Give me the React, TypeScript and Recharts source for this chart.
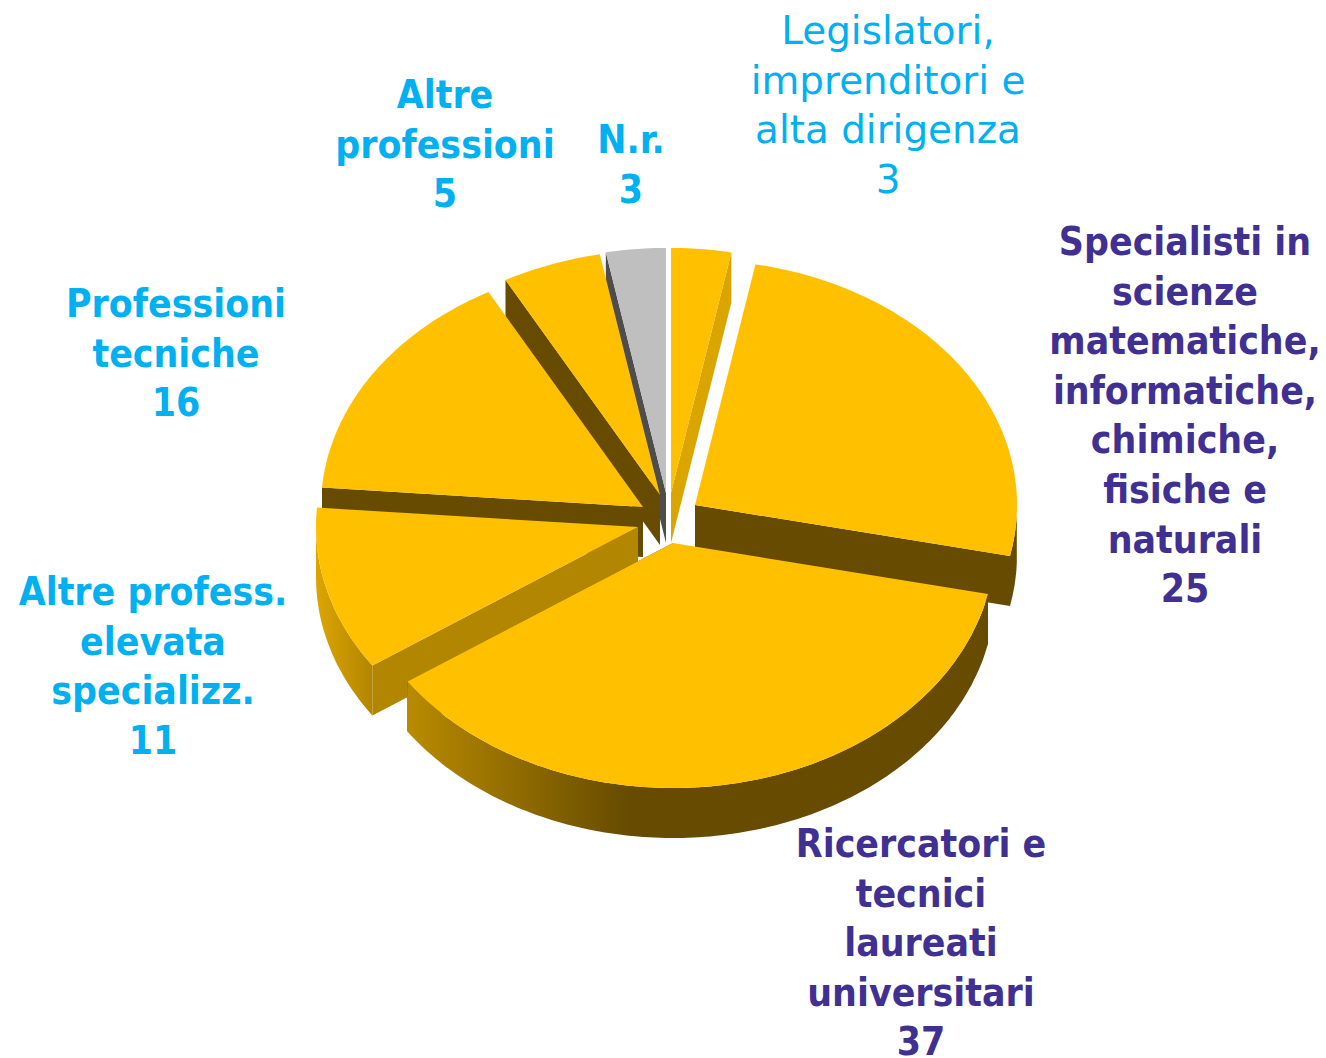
import { Pie, PieChart } from "recharts";

// drawn in this order, back to front, going counter-clockwise round the pie
const categories = [
  "Specialisti in\nscienze\nmatematiche,\ninformatiche,\nchimiche,\nfisiche e\nnaturali",
  "Legislatori,\nimprenditori e\nalta dirigenza",
  "N.r.",
  "Altre\nprofessioni",
  "Professioni\ntecniche",
  "Altre profess.\nelevata\nspecializz.",
  "Ricercatori e\ntecnici\nlaureati\nuniversitari",
];
const values = [25, 3, 3, 5, 16, 11, 37];

const chartData = categories.map((name, i) => ({ name, value: values[i] }));

const WIDTH = 1326;
const HEIGHT = 1058;
const CX = 670;
const CY = 505;
const RX = 322;
const RY = 245;
const DEPTH = 50;

const AMBER = "#FFC000";
const DARK = "#664B00";
const CYAN = "#00B0F0";
const PURPLE = "#403092";
const FONT_BOLD = "'DejaVu Sans Condensed', 'DejaVu Sans', sans-serif";
const FONT_PLAIN = "'DejaVu Sans', sans-serif";

const explode = [
  [25, 0],
  [1, -12],
  [-4, -12],
  [-10, -10],
  [-27, 2],
  [-32, 22],
  [3, 38],
];
const topFill = [AMBER, AMBER, "#BFBFBF", AMBER, AMBER, AMBER, AMBER];
const edgeFill = [DARK, "#DBA500", "#4D4D4D", DARK, DARK, "#B38600", DARK];
const rimFill = [DARK, "#DBA500", "#4D4D4D", DARK, DARK, "url(#rimLeft)", "url(#rimFront)"];

const labelPos = [
  { x: 1185, y: 255, color: PURPLE, weight: 700 },
  { x: 888, y: 44, color: CYAN, weight: 400 },
  { x: 631, y: 153, color: CYAN, weight: 700 },
  { x: 445, y: 108, color: CYAN, weight: 700 },
  { x: 176, y: 317, color: CYAN, weight: 700 },
  { x: 153, y: 605, color: CYAN, weight: 700 },
  { x: 921, y: 857, color: PURPLE, weight: 700 },
];

const rad = (a: number) => (a * Math.PI) / 180;

function SliceShape(props: any) {
  const { startAngle, endAngle, index } = props;
  const [dx, dy] = explode[index];
  const cx = props.cx + dx;
  const cy = props.cy + dy;
  const rx = props.outerRadius;
  const ry = (props.outerRadius * RY) / RX;
  const pt = (a: number): [number, number] => {
    // the tilted view pulls the near part of the pie round a little
    const half = Math.sin(rad((90 - a) / 2));
    const seen = a - 2 * half * half;
    return [cx + rx * Math.cos(rad(seen)), cy - ry * Math.sin(rad(seen))];
  };

  // ellipse points along the slice's rim
  const arc: [number, number][] = [];
  const steps = Math.ceil(Math.abs(endAngle - startAngle));
  for (let i = 0; i <= steps; i++) {
    arc.push(pt(startAngle + ((endAngle - startAngle) * i) / steps));
  }
  const poly = (pts: [number, number][]) =>
    pts.map((p) => `${p[0].toFixed(1)},${p[1].toFixed(1)}`).join(" ");

  // the part of the rim facing the viewer
  const front: [number, number][] = [];
  for (let i = 0; i <= steps; i++) {
    const a = startAngle + ((endAngle - startAngle) * i) / steps;
    if (Math.sin(rad(a)) <= 0) front.push(pt(a));
  }
  const frontWall = [...front, ...front.slice().reverse().map((p) => [p[0], p[1] + DEPTH] as [number, number])];

  // radial cut that shows: right half of the pie its lower angle, left half its upper
  const mid = (startAngle + endAngle) / 2;
  const cutAngle = Math.cos(rad(mid)) > 0 ? startAngle : endAngle;
  const rimPt = pt(cutAngle);
  const cutWall: [number, number][] = [
    [cx, cy],
    rimPt,
    [rimPt[0], rimPt[1] + DEPTH],
    [cx, cy + DEPTH],
  ];

  return (
    <g>
      <polygon points={poly(cutWall)} fill={edgeFill[index]} />
      {front.length > 1 && <polygon points={poly(frontWall)} fill={rimFill[index]} />}
      <polygon points={poly([[cx, cy], ...arc])} fill={topFill[index]} />
    </g>
  );
}

function SliceLabel(props: any) {
  const { index } = props;
  const lines = [...categories[index].split("\n"), String(values[index])];
  const pos = labelPos[index];
  const bold = pos.weight === 700;
  return (
    <text
      x={pos.x}
      y={pos.y}
      textAnchor="middle"
      fill={pos.color}
      fontFamily={bold ? FONT_BOLD : FONT_PLAIN}
      fontSize={bold ? 38.8 : 38.9}
      fontWeight={pos.weight}
    >
      {lines.map((line, i) => (
        <tspan key={i} x={pos.x} y={pos.y + i * 49.6}>
          {line}
        </tspan>
      ))}
    </text>
  );
}

export default function App() {
  return (
    <div style={{ position: "absolute", left: 0, top: 0, width: WIDTH, height: HEIGHT, overflow: "hidden" }}>
      <PieChart width={WIDTH} height={HEIGHT} margin={{ top: 0, right: 0, bottom: 0, left: 0 }}>
        <defs>
          <linearGradient id="rimFront" gradientUnits="userSpaceOnUse" x1={410} y1={0} x2={630} y2={0}>
            <stop offset="0" stopColor="#B88A00" />
            <stop offset="1" stopColor={DARK} />
          </linearGradient>
          <linearGradient id="rimLeft" gradientUnits="userSpaceOnUse" x1={317} y1={0} x2={372} y2={0}>
            <stop offset="0" stopColor="#DBA500" />
            <stop offset="1" stopColor="#B38600" />
          </linearGradient>
        </defs>
        <Pie
          data={chartData}
          dataKey="value"
          nameKey="name"
          cx={CX}
          cy={CY}
          innerRadius={0}
          outerRadius={RX}
          startAngle={-10.8}
          endAngle={349.2}
          paddingAngle={0}
          stroke="none"
          shape={SliceShape}
          label={SliceLabel}
          labelLine={false}
          isAnimationActive={false}
        />
      </PieChart>
    </div>
  );
}
